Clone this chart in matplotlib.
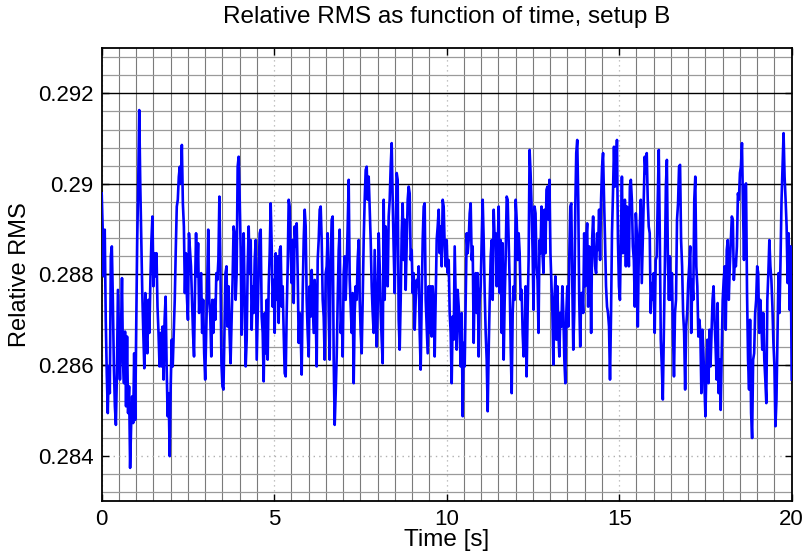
import numpy as np
import matplotlib.pyplot as plt

plt.rcParams['font.family'] = ['Liberation Sans', 'DejaVu Sans']

# relative RMS, in units of 1e-5, one list per 4 s of record
rms_0_4 = [28979, 28899, 28796, 28899, 28700, 28582, 28494, 28597, 28538, 28840,
           28862, 28744, 28597, 28509, 28468, 28582, 28766, 28671, 28568, 28671,
           28792, 28604, 28560, 28674, 28509, 28663, 28494, 28553, 28373, 28465,
           28531, 28472, 28626, 28479, 28685, 28876, 29001, 29163, 29001, 28876,
           28759, 28671, 28593, 28759, 28671, 28626, 28744, 28671, 28788, 28876,
           28928, 28774, 28847, 28796, 28847, 28729, 28671, 28597, 28671, 28597,
           28685, 28568, 28700, 28751, 28597, 28487, 28538, 28399, 28553, 28656,
           28597, 28671, 28744, 28854, 28950, 28965, 29016, 29038, 29001, 29086,
           28957, 28906, 28759, 28847, 28751, 28700, 28891, 28854, 28818, 28744,
           28671, 28619, 28774, 28891, 28796, 28869, 28715, 28788, 28803, 28671,
           28744, 28626, 28568, 28671, 28774, 28899, 28744, 28707, 28619, 28744,
           28671, 28744, 28700, 28803, 28788, 28832, 28972, 28818, 28604, 28553,
           28546, 28671, 28803, 28818, 28685, 28774, 28671, 28604, 28700, 28788,
           28906, 28891, 28744, 28803, 29038, 29060]
rms_4_8 = [28965, 28854, 28667, 28818, 28891, 28744, 28597, 28656, 28818, 28906,
           28803, 28876, 28678, 28774, 28715, 28832, 28876, 28612, 28715, 28810,
           28891, 28899, 28707, 28671, 28564, 28715, 28626, 28744, 28612, 28774,
           28847, 28957, 28862, 28729, 28788, 28671, 28847, 28744, 28840, 28693,
           28854, 28862, 28729, 28774, 28671, 28582, 28575, 28715, 28818, 28965,
           28950, 28847, 28781, 28876, 28737, 28906, 28862, 28913, 28803, 28649,
           28715, 28671, 28579, 28759, 28876, 28943, 28906, 28744, 28671, 28619,
           28774, 28707, 28810, 28744, 28671, 28788, 28715, 28597, 28832, 28876,
           28943, 28950, 28876, 28744, 28707, 28612, 28803, 28818, 28891, 28715,
           28612, 28832, 28921, 28928, 28612, 28468, 28538, 28619, 28744, 28854,
           28899, 28671, 28715, 28619, 28803, 28840, 28744, 28818, 28906, 29009,
           28788, 28729, 28671, 28759, 28560, 28715, 28774, 28744, 28832, 28876,
           28744, 28671, 28626, 28744, 28876, 28965, 29031, 29038, 28965, 29016,
           28943, 28876, 28774, 28715, 28671, 28854, 28744, 28641]
rms_8_12 = [28729, 28891, 28818, 28715, 28656, 28604, 28965, 28744, 28906, 28854,
            28774, 28928, 28965, 29038, 29090, 28965, 28854, 28759, 28891, 29024,
            29009, 28700, 28634, 28744, 28891, 28957, 28832, 28921, 28766, 28862,
            28965, 28994, 28979, 28832, 28854, 28759, 28803, 28678, 28744, 28788,
            28774, 28818, 28671, 28590, 28744, 28876, 28950, 28957, 28744, 28685,
            28626, 28774, 28671, 28774, 28663, 28774, 28729, 28619, 28744, 28876,
            28906, 28943, 28847, 28906, 28818, 28965, 28950, 28862, 28818, 28876,
            28803, 28832, 28715, 28671, 28560, 28707, 28656, 28862, 28744, 28634,
            28766, 28729, 28671, 28597, 28715, 28487, 28649, 28597, 28744, 28891,
            28847, 28876, 28935, 28957, 28832, 28862, 28649, 28788, 28803, 28715,
            28803, 28619, 28744, 28774, 28876, 28965, 28876, 28759, 28671, 28612,
            28498, 28634, 28744, 28840, 28876, 28744, 28943, 28876, 28891, 28774,
            28854, 28950, 28759, 28876, 28671, 28869, 28612, 28744, 28840, 28972,
            28965, 28876, 28781, 28641, 28538, 28715, 28774, 28744]
rms_12_16 = [28965, 28921, 28832, 28891, 28847, 28744, 28766, 28671, 28619, 28641,
             28774, 28575, 28715, 28832, 29075, 29024, 28950, 28854, 28722, 28950,
             28935, 28818, 28788, 28671, 28876, 28847, 28950, 28847, 28803, 28943,
             28847, 28987, 28994, 28921, 29009, 28847, 28781, 28715, 28601, 28744,
             28796, 28656, 28774, 28671, 28619, 28715, 28685, 28774, 28715, 28612,
             28560, 28715, 28774, 28685, 28840, 28950, 28957, 28781, 28634, 28715,
             28943, 29068, 29097, 28965, 28744, 28641, 28759, 28759, 28715, 28891,
             28774, 28876, 28913, 28729, 28862, 28854, 28671, 28876, 28928, 28862,
             28818, 28803, 28891, 28854, 28943, 28832, 28965, 29038, 29068, 28965,
             28876, 28774, 28729, 28715, 28685, 28568, 28707, 28891, 28979, 29082,
             28994, 29016, 29097, 28876, 28774, 28744, 28891, 29016, 28847, 28891,
             28965, 28818, 28950, 28906, 28818, 28994, 29009, 28965, 28862, 28832,
             28729, 28935, 28891, 28685, 28847, 28906, 28965, 28781, 28876, 28965,
             29060, 29024, 29068, 28965, 28906, 28891, 28715, 28781, 28744]
rms_16_20 = [28803, 28671, 28832, 28840, 28965, 29075, 28891, 28656, 28597, 28524,
             28671, 28818, 28994, 29053, 28832, 28744, 28840, 28744, 28803, 28671,
             28575, 28715, 28744, 28921, 28957, 29038, 29042, 28876, 28818, 28715,
             28671, 28546, 28685, 28715, 28781, 28818, 28862, 28671, 28788, 28744,
             28965, 29016, 28818, 28774, 28663, 28700, 28671, 28538, 28678, 28626,
             28553, 28487, 28597, 28656, 28560, 28678, 28597, 28671, 28744, 28774,
             28700, 28641, 28568, 28737, 28538, 28612, 28501, 28626, 28744, 28788,
             28818, 28678, 28854, 28876, 28744, 28818, 28876, 28928, 28921, 28788,
             28832, 28818, 28862, 28979, 28965, 29024, 29038, 29090, 28950, 28832,
             28994, 29001, 28759, 28612, 28546, 28700, 28494, 28439, 28612, 28626,
             28715, 28744, 28818, 28803, 28671, 28744, 28700, 28634, 28715, 28612,
             28568, 28516, 28744, 28803, 28876, 28818, 28788, 28729, 28649, 28597,
             28465, 28524, 28671, 28803, 28715, 28832, 28965, 29038, 29112, 29016,
             28965, 28906, 28781, 28891, 28722, 28862, 28568]

segments = [rms_0_4, rms_4_8, rms_8_12, rms_12_16, rms_16_20]
edges = [0, 4, 8, 12, 16, 20]

t = []
rms = []
for k, seg in enumerate(segments):
    last = k == len(segments) - 1
    t.append(np.linspace(edges[k], edges[k + 1], len(seg), endpoint=last))
    rms.append(np.array(seg) / 1e5)
t = np.concatenate(t)
rms = np.concatenate(rms)

fig = plt.figure(figsize=(8.09, 5.6), dpi=100)
ax = fig.add_axes([0.1257, 0.1054, 0.8529, 0.8089])

ax.plot(t, rms, color='#0000ff', lw=1.9, zorder=3)

ax.set_xlim(0, 20)
ax.set_ylim(0.283, 0.293)
ax.set_xticks([0, 5, 10, 15, 20])
ax.set_xticklabels(['0', '5', '10', '15', '20'])
ax.set_yticks([0.284, 0.286, 0.288, 0.29, 0.292])
ax.set_yticklabels(['0.284', '0.286', '0.288', '0.29', '0.292'])
ax.set_xticks(np.arange(0, 20.01, 0.5), minor=True)
ax.set_yticks(np.arange(0.2832, 0.2929, 0.0004), minor=True)

# matlab-ish grid: solid grey minor lines, major lines mixed
ax.grid(which='minor', axis='x', color='#7a7a7a', lw=0.8, ls='-')
ax.grid(which='minor', axis='y', color='#9a9a9a', lw=0.9, ls='-')
ax.grid(which='major', axis='x', color='#b0b0b0', lw=0.9, ls=(0, (1, 3)))
ax.grid(which='major', axis='y', color='black', lw=1.0, ls='-')
ax.yaxis.get_major_ticks()[0].gridline.set_linestyle((0, (1, 3)))
ax.yaxis.get_major_ticks()[0].gridline.set_color('#b0b0b0')
ax.set_axisbelow(True)

ax.tick_params(which='major', direction='in', length=5, width=1, top=True, right=True,
               labelsize=16, pad=6)
ax.tick_params(which='minor', length=0)
for s in ax.spines.values():
    s.set_linewidth(1.3)

ax.set_title('Relative RMS as function of time, setup B', fontsize=17.5, pad=18)
ax.set_xlabel('Time [s]', fontsize=17.5, labelpad=-1)
ax.set_ylabel('Relative RMS', fontsize=17, labelpad=5)

fig.savefig('out.png', dpi=100)
